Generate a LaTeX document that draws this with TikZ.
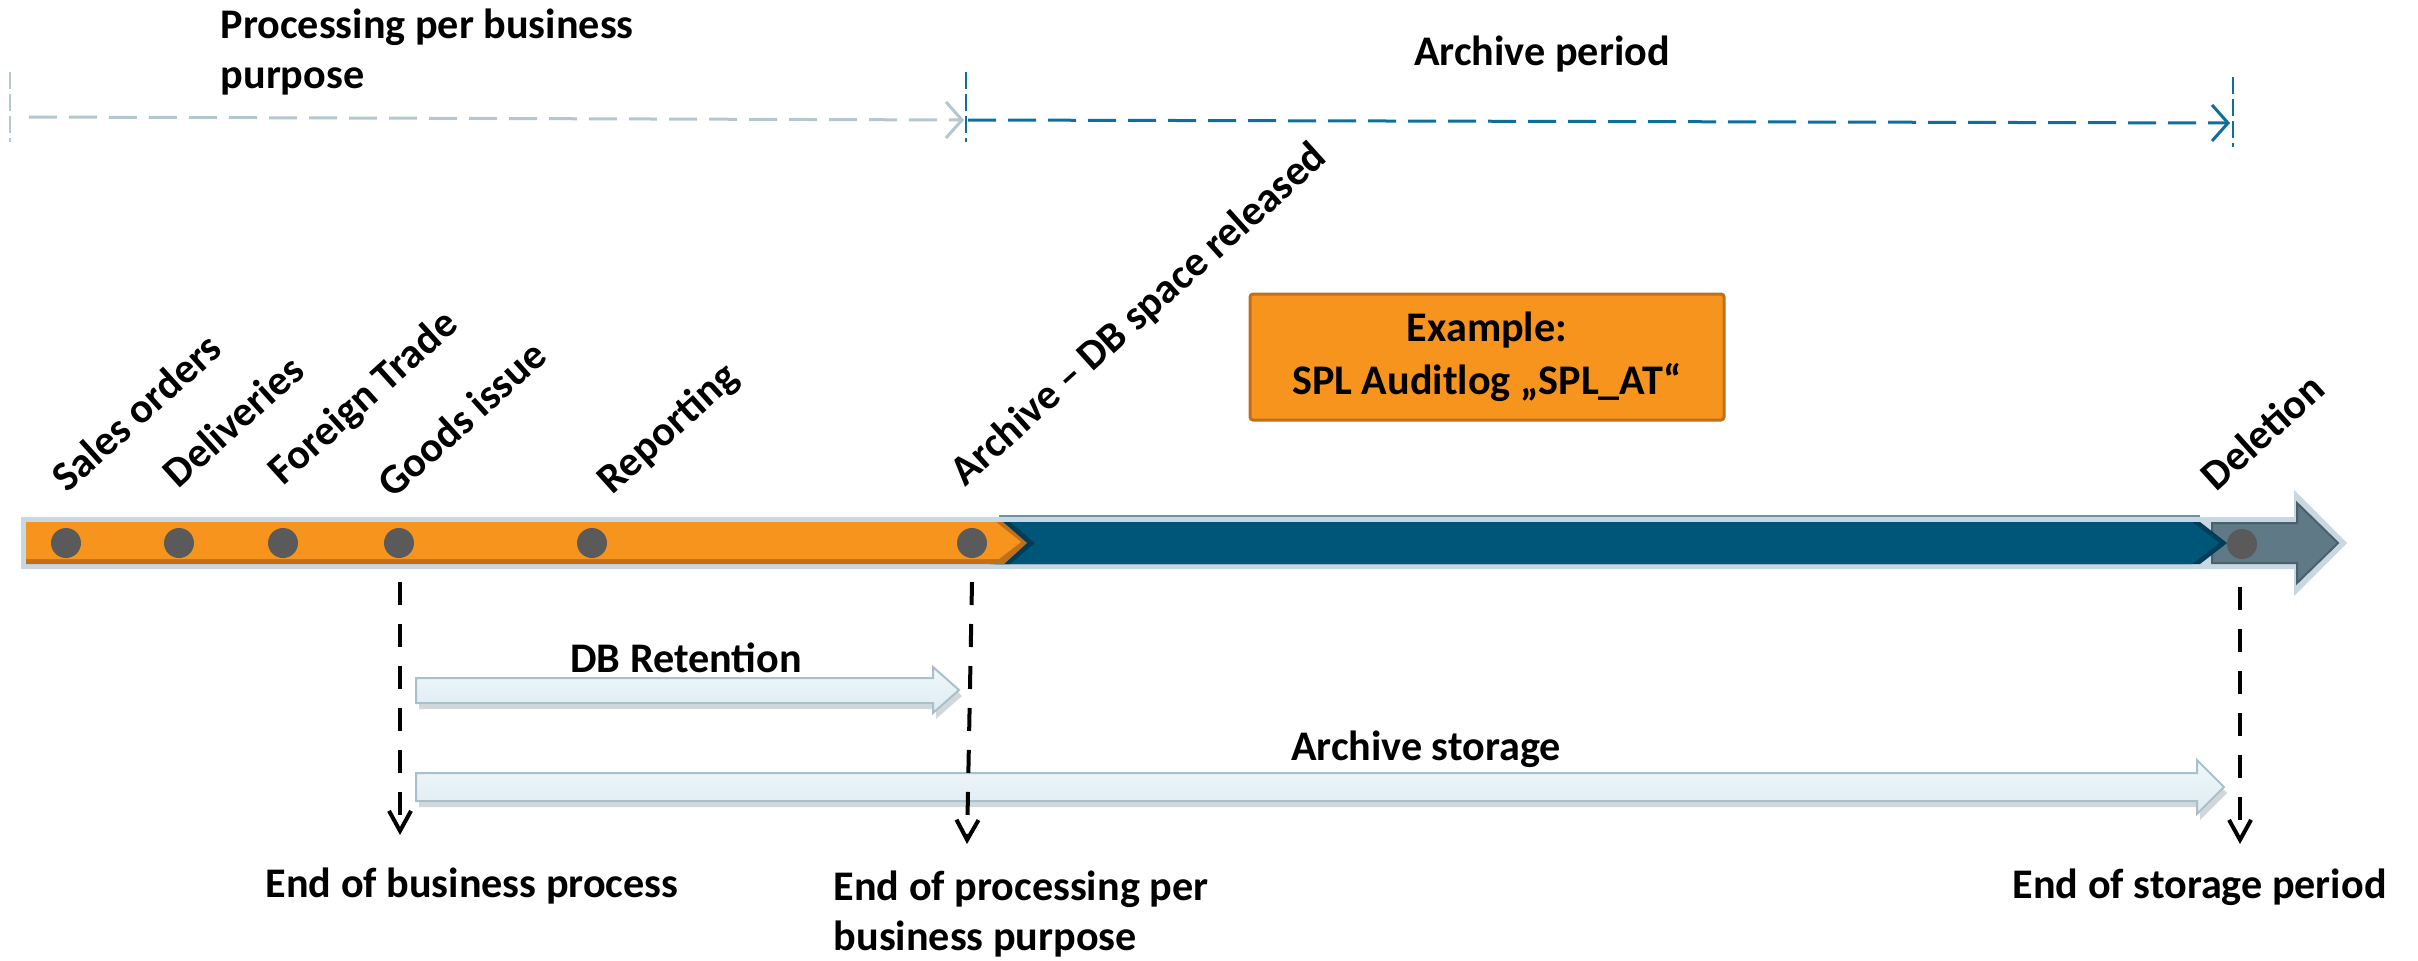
\documentclass[tikz,border=0pt]{standalone}
\usepackage{fontspec}
\setmainfont{Carlito}
\usetikzlibrary{arrows.meta}
\definecolor{orangeM}{HTML}{F7941E}
\definecolor{orangeD}{HTML}{C0701B}
\definecolor{blueM}{HTML}{005679}
\definecolor{blueD}{HTML}{003D58}
\definecolor{blueL}{HTML}{6E93A5}
\definecolor{greyA}{HTML}{5F7986}
\definecolor{greyAD}{HTML}{4A616C}
\definecolor{band}{HTML}{C8D8E2}
\definecolor{dotc}{HTML}{5A5A5A}
\definecolor{perGray}{HTML}{B5C6CD}
\definecolor{perBlue}{HTML}{0E6E9C}
\definecolor{laEdge}{HTML}{A9C0CA}
\definecolor{laTop}{HTML}{F0F8FB}
\definecolor{laBot}{HTML}{DCEBF1}
\definecolor{shadowc}{HTML}{9AA9B0}
\begin{document}
\begin{tikzpicture}[x=0.1mm,y=-0.1mm,
  font=\fontsize{12pt}{14.3pt}\selectfont\bfseries,
  lbl/.style={inner sep=0pt, text=black},
  rlbl/.style={lbl, anchor=base west, rotate=42},
  dot/.style={circle, fill=dotc, minimum size=3mm, inner sep=0pt},
  vline/.style={draw=black, line width=0.4mm, dash pattern=on 2.3mm off 1.9mm,
    -{Straight Barb[length=2mm,width=2.2mm]}},
  tick/.style={line width=0.2mm, dash pattern=on 1.7mm off 0.5mm},
  period/.style={line width=0.3mm, dash pattern=on 2.8mm off 1.2mm,
    -{Straight Barb[length=1.6mm,width=3.6mm]}},
  lightarrow/.style={draw=laEdge, line width=0.2mm, top color=laTop, bottom color=laBot},
  lashadow/.style={fill=shadowc, opacity=0.45},
  exbox/.style={fill=orangeM, draw=orangeD, line width=0.3mm, rounded corners=0.3mm,
    minimum width=47.4mm, minimum height=12.6mm, align=center, inner sep=0pt,
    font=\fontsize{12pt}{15pt}\selectfont\bfseries}
]
\path[use as bounding box] (0,0) rectangle (2418,960);

% ---------- top period arrows ----------
\coordinate (tL1) at (10,72);   \coordinate (tL2) at (10,142);
\coordinate (tM1) at (966,72);  \coordinate (tM2) at (966,142);
\coordinate (tR1) at (2233,77); \coordinate (tR2) at (2233,147);
\draw[tick, perGray] (tL1) -- (tL2);
\draw[tick, perBlue] (tM1) -- (tM2);
\draw[tick, perBlue] (tR1) -- (tR2);
\coordinate (pA) at (29,117);  \coordinate (pB) at (964,120);
\coordinate (pC) at (968,120); \coordinate (pD) at (2230,123);
\draw[period, perGray] (pA) -- (pB);
\draw[period, perBlue] (pC) -- (pD);

\node[lbl, anchor=north west, align=left] (proc) at (220,8) {Processing per business\\purpose};
\node[lbl, anchor=base] (arch) at (1542,65) {Archive period};

% ---------- main timeline bar ----------
\fill[band] (21,517) -- (2294,517) -- (2294,490) -- (2347,543) -- (2294,596)
  -- (2294,569) -- (21,569) -- cycle;
\draw[greyAD, fill=greyA, line width=0.2mm] (2212,523) -- (2297,523) -- (2297,503)
  -- (2338,543) -- (2297,583) -- (2297,563) -- (2212,563) -- cycle;
\draw[blueL, line width=0.2mm] (999,516) -- (2200,516);
\fill[blueD] (995,522) -- (2200,522) -- (2227,543) -- (2200,564) -- (995,564) -- cycle;
\fill[blueM] (995,522) -- (2192,522) -- (2219,543) -- (2192,564) -- (995,564) -- cycle;
\fill[blueD] (990,522) -- (1010,522) -- (1035,543) -- (1010,564) -- (990,564) -- cycle;
\fill[orangeD] (26,522) -- (1003,522) -- (1027,543) -- (1004,564) -- (26,564) -- cycle;
\fill[orangeM] (26,522) -- (996,522) -- (1021,542) -- (999,559) -- (26,559) -- cycle;

\node[dot] (d1) at (66,543) {};
\node[dot] (d2) at (179,543) {};
\node[dot] (d3) at (283,543) {};
\node[dot] (d4) at (399,543) {};
\node[dot] (d5) at (592,543) {};
\node[dot] (d6) at (972,543) {};
\node[dot] (d7) at (2242,544) {};

\node[rlbl] (l1) at (67,494) {Sales orders};
\node[rlbl] (l2) at (178,490) {Deliveries};
\node[rlbl] (l3) at (283,487) {Foreign Trade};
\node[rlbl] (l4) at (393,500) {Goods issue};
\node[rlbl] (l5) at (612,496) {Reporting};
\node[rlbl] (l6) at (965,488) {Archive – DB space released};
\node[rlbl] (l7) at (2216,493) {Deletion};

\node[exbox] (ex) at (1487,357) {Example:\\SPL Auditlog „SPL\_AT“};

% ---------- retention arrows ----------
\fill[lashadow] (419,684) -- (936,684) -- (936,673) -- (962,696) -- (936,719)
  -- (936,709) -- (419,709) -- cycle;
\draw[lightarrow] (416,678) -- (933,678) -- (933,667) -- (959,690) -- (933,713)
  -- (933,703) -- (416,703) -- cycle;
\node[lbl, anchor=base] (dbr) at (686,672) {DB Retention};

\fill[lashadow] (419,779) -- (2200,779) -- (2200,766) -- (2227,793) -- (2200,820)
  -- (2200,807) -- (419,807) -- cycle;
\draw[lightarrow] (416,773) -- (2197,773) -- (2197,760) -- (2224,787) -- (2197,814)
  -- (2197,801) -- (416,801) -- cycle;
\node[lbl, anchor=base] (ast) at (1426,760) {Archive storage};

% ---------- vertical dashed markers ----------
\coordinate (v1a) at (400,582);  \coordinate (v1b) at (400,835);
\coordinate (v2a) at (972,582);  \coordinate (v2b) at (967,844);
\coordinate (v3a) at (2240,587); \coordinate (v3b) at (2240,844);
\draw[vline] (v1a) -- (v1b);
\draw[vline] (v2a) -- (v2b);
\draw[vline] (v3a) -- (v3b);

\node[lbl, anchor=base] (e1) at (472,897) {End of business process};
\node[lbl, anchor=north west, align=left] (e2) at (833,870) {End of processing per\\business purpose};
\node[lbl, anchor=base west] (e3) at (2012,898) {End of storage period};
\end{tikzpicture}
\end{document}
